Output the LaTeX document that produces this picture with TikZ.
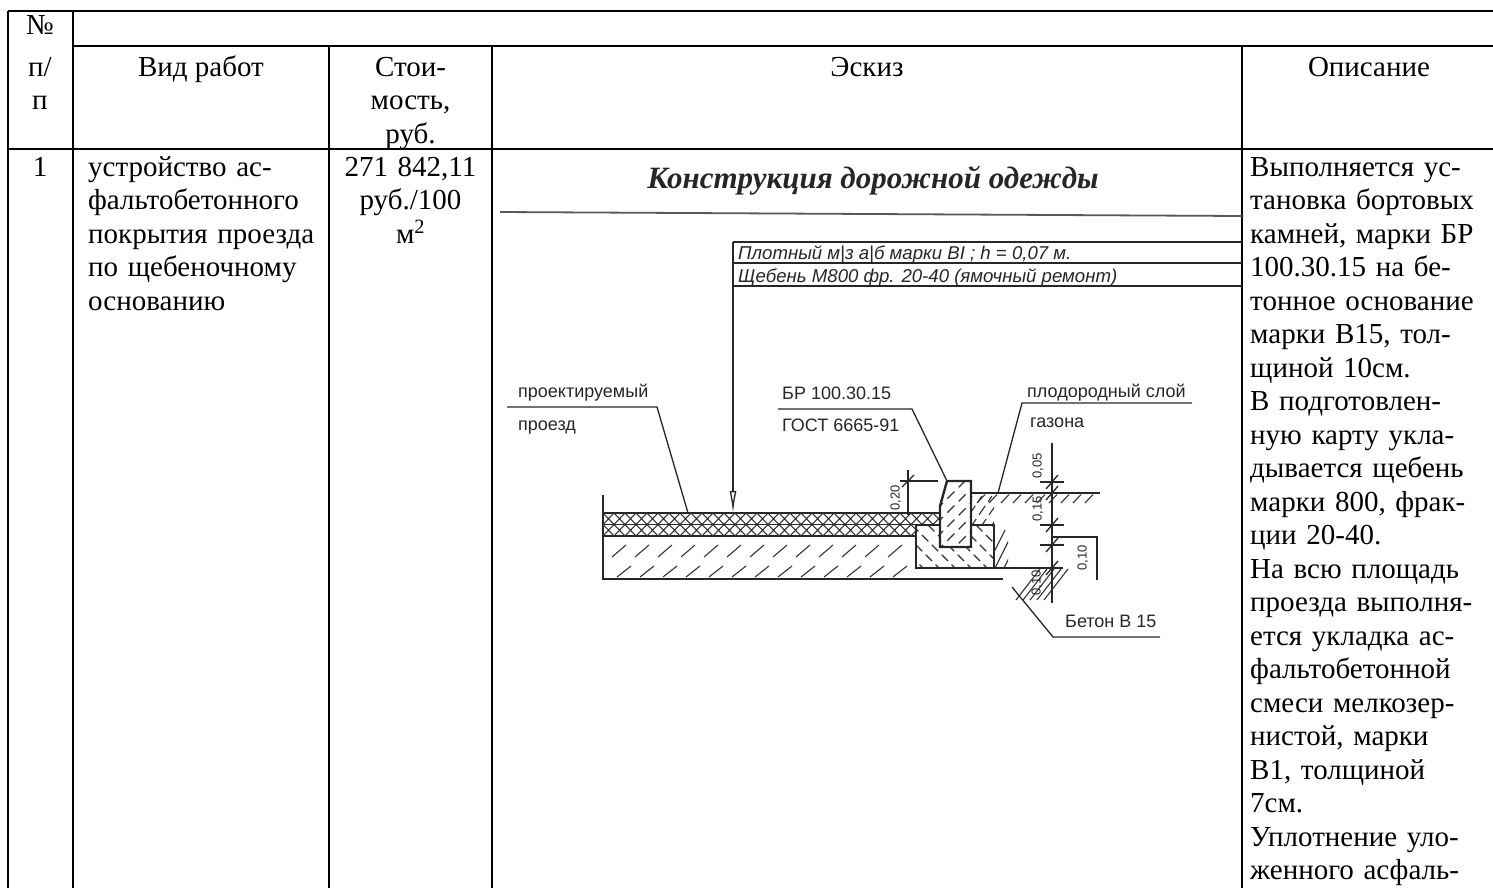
\documentclass[tikz,border=0pt]{standalone}
\usepackage{fontspec}
\setmainfont{Liberation Serif}
\newfontfamily\skfont{Liberation Sans}
\usetikzlibrary{arrows.meta}
\tikzset{
  tline/.style={line width=2.6pt},
  body/.style={font=\fontsize{29}{33.5}\selectfont, inner sep=0pt, anchor=base},
  leftcell/.style={body, anchor=base west, text width=400pt, align=left},
  ctrcell/.style={body, text width=200pt, align=center},
  sline/.style={line width=1.3pt, black!85},
  sbold/.style={line width=2.4pt, black!85},
  stext/.style={font=\skfont\fontsize{18}{21}\selectfont, inner sep=0pt, anchor=base west, text=black!85},
  handt/.style={font=\skfont\itshape\fontsize{18.6}{20}\selectfont, inner sep=0pt, anchor=base west, text=black!85},
  hatch/.style={line width=1.1pt, black!80},
  dimtext/.style={font=\skfont\fontsize{13}{15}\selectfont, inner sep=0pt, rotate=90, text=black!85},
}
\begin{document}
\begin{tikzpicture}[x=1pt,y=-1pt]
\useasboundingbox (0,0) rectangle (1493,887);
\clip (0,0) rectangle (1493,887);
% ---------- table grid
\draw[tline] (8,11) -- (1500,11);
\draw[tline] (8,11) -- (8,900);
\draw[tline] (73,11) -- (73,900);
\draw[tline] (73,46) -- (1500,46);
\draw[tline] (8,149) -- (1500,149);
\draw[tline] (329,46) -- (329,900);
\draw[tline] (492,46) -- (492,900);
\draw[tline] (1242,46) -- (1242,900);
% ---------- header
\node[body] (h1) at (40,34) {№};
\node[body] (h2) at (40,76) {п/};
\node[body] (h3) at (40,109) {п};
\node[body] (hvid) at (201,76) {Вид работ};
\node[ctrcell] (hcost) at (410.5,76) {Стои-\\мость,\\руб.};
\node[body] (hsk) at (867,76) {Эскиз};
\node[body] (hdesc) at (1369,76) {Описание};
% ---------- body
\node[body] (b1) at (40,176) {1};
\node[leftcell] (bvid) at (88,176) {устройство ас-\\фальтобетонного\\покрытия проезда\\по щебеночному\\основанию};
\node[ctrcell] (bcost) at (410.5,176) {271 842,11\\руб./100\\м\textsuperscript{2}};
\node[leftcell] (bdesc) at (1250,176) {Выполняется ус-\\тановка бортовых\\камней, марки БР\\100.30.15 на бе-\\тонное основание\\марки В15, тол-\\щиной 10см.\\В подготовлен-\\ную карту укла-\\дывается щебень\\марки 800, фрак-\\ции 20-40.\\На всю площадь\\проезда выполня-\\ется укладка ас-\\фальтобетонной\\смеси мелкозер-\\нистой, марки\\В1, толщиной\\7см.\\Уплотнение уло-\\женного асфаль-};
% ---------- sketch
\node[font=\fontsize{31}{34}\selectfont\bfseries\itshape, inner sep=0pt, anchor=base, text=black!85] (title) at (873,188) {Конструкция дорожной одежды};
\draw[line width=1.8pt, black!65] (500,212) -- (1242,216);
% legend
\draw[sline] (733,242) -- (1242,242);
\draw[sline] (733,263) -- (1242,263);
\draw[sline] (733,286) -- (1242,286);
\node[handt] (lg1) at (738,259) {Плотный м|з а|б марки BI ; h = 0,07 м.};
\node[handt] (lg2) at (738,282) {Щебень М800 фр. 20-40 (ямочный ремонт)};
\coordinate (lgtop) at (733,242);
\coordinate (arrtip) at (733,513);
\draw[sline, -{Latex[open,length=22pt,width=7pt]}] (lgtop) -- (arrtip);
% road section outline
\draw[sline] (603,495) -- (603,579) -- (1003,579);
\draw[sline] (603,513) -- (940,513);
\draw[sline] (603,524.5) -- (940,524.5);
\draw[sline] (603,536) -- (916,536);
\begin{scope}
  \clip (603,513) rectangle (940,524.5);
  \foreach \x in {603,614,...,945} {\draw[hatch] (\x,513) -- (\x+11,524.5) (\x,524.5) -- (\x+11,513);}
\end{scope}
\begin{scope}
  \clip (603,524.5) rectangle (916,536);
  \foreach \x in {603,614,...,920} {\draw[hatch] (\x,524.5) -- (\x+11,536) (\x,536) -- (\x+11,524.5);}
\end{scope}
\begin{scope}
  \clip (604,537) rectangle (915,578);
  \foreach \x in {612,635,...,905} {\draw[hatch] (\x,557) -- (\x+14,545); \draw[hatch] (\x+5,577) -- (\x+19,566);}
\end{scope}
% concrete base
\begin{scope}
  \clip (916,525) -- (940,525) -- (940,547) -- (971,547) -- (971,525) -- (994,525) -- (994,568) -- (916,568) -- cycle;
  \foreach \x in {880,896,...,1000} {\draw[hatch, dash pattern=on 9pt off 5pt] (\x,525) -- (\x+43,568);}
\end{scope}
\draw[sbold] (940,525) -- (916,525) -- (916,568) -- (994,568) -- (994,525) -- (971,525);
% curb
\begin{scope}
  \clip (947,481) -- (971,481) -- (971,547) -- (940,547) -- (940,506) -- cycle;
  \foreach \y in {490,504,...,580} {\draw[hatch, dash pattern=on 10pt off 6pt] (936,\y+20) -- (976,\y-20);}
\end{scope}
\draw[sbold] (947,481) -- (971,481) -- (971,547) -- (940,547) -- (940,506) -- cycle;
% ground and soil
\draw[sline] (971,493) -- (1100,493);
\foreach \x in {977,989,...,1095} {\draw[hatch] (\x,503) -- (\x+8,494.5);}
\begin{scope}
  \clip (972,494) rectangle (994,524);
  \foreach \x in {950,960,...,1000} {\draw[hatch, dash pattern=on 11pt off 5pt] (\x,528) -- (\x+22,496);}
\end{scope}
\begin{scope}
  \clip (995,526) rectangle (1008,567);
  \foreach \x in {985,994,...,1010} {\draw[hatch] (\x,570) -- (\x+20,530);}
\end{scope}
\draw[sline] (994,568) -- (1063,568);
\foreach \i in {0,1,2,3,4} {\draw[hatch] (1016+7*\i,600) -- (1040+7*\i,569);}
% dimensions right
\draw[sline] (1052,443) -- (1052,603);
\foreach \y in {482,493,525,545,568} {\draw[sline] (1046,\y+7) -- (1058,\y-7);}
\foreach \y in {482,525,545} {\draw[sline] (1040,\y) -- (1064,\y);}
\draw[sline] (1052,537) -- (1097,537) -- (1097,580);
\node[dimtext] (d05) at (1038,466) {0,05};
\node[dimtext] (d15) at (1038,509) {0,15};
\node[dimtext] (d10a) at (1083,558) {0,10};
\node[dimtext] (d10b) at (1037,583) {0,10};
% dimension left
\draw[sline] (908,470) -- (908,515);
\draw[sline] (900,481) -- (938,481);
\draw[sline] (902,487) -- (914,475);
\node[dimtext] (d20) at (896,498) {0,20};
% labels and leaders
\node[stext] (proj1) at (518,397) {проектируемый};
\node[stext] (proj2) at (518,430) {проезд};
\coordinate (projA) at (507,407);
\coordinate (projB) at (657,407);
\coordinate (projC) at (688,513);
\draw[sline] (projA) -- (projB) -- (projC);
\node[stext] (br1) at (782,399) {БР 100.30.15};
\node[stext] (br2) at (782,431) {ГОСТ 6665-91};
\coordinate (brA) at (778,409);
\coordinate (brB) at (912,409);
\coordinate (brC) at (947,481);
\draw[sline] (brA) -- (brB) -- (brC);
\node[stext] (pl1) at (1027,397) {плодородный слой};
\node[stext] (pl2) at (1030,427) {газона};
\coordinate (plA) at (1192,403);
\coordinate (plB) at (1022,403);
\coordinate (plC) at (998,493);
\draw[sline] (plA) -- (plB) -- (plC);
\node[stext] (bet) at (1065,627) {Бетон В 15};
\coordinate (betA) at (1012,587);
\coordinate (betB) at (1053,637);
\coordinate (betC) at (1160,637);
\draw[sline] (betA) -- (betB) -- (betC);
\end{tikzpicture}
\end{document}
